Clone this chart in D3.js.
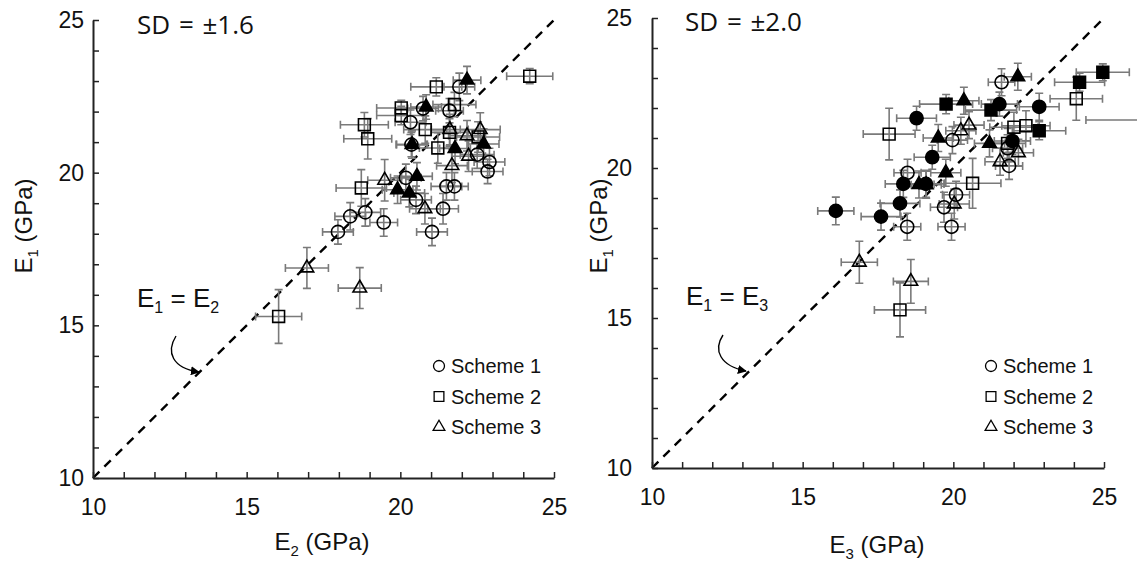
<!DOCTYPE html>
<html><head><meta charset="utf-8">
<script src="https://cdn.jsdelivr.net/npm/d3@7"></script>
<style>body{margin:0;background:#fff} svg{display:block}</style>
</head><body>
<svg id="c" width="1137" height="566"></svg>
<script>
// ---------- data ----------
const majorTicks = [10, 15, 20, 25];
const minorTicks = d3.range(10, 26);
const legendLabels = ["Scheme 1", "Scheme 2", "Scheme 3"];

// Left panel: each entry [E2, E1, errE2, errE1]
const leftScheme1 = [
  [21.92,22.81,0.5,0.45],[21.6,22.03,0.45,0.4],[20.33,21.65,0.5,0.4],[20.74,22.1,0.5,0.4],
  [20.36,20.92,0.5,0.4],[22.5,20.59,0.55,0.45],[22.9,20.35,0.5,0.45],[22.84,20.04,0.5,0.4],
  [21.5,19.55,0.5,0.45],[21.76,19.55,0.45,0.45],[20.18,19.83,0.5,0.45],[20.51,19.11,0.5,0.45],
  [21.39,18.82,0.5,0.5],[21.03,18.06,0.5,0.45],[19.46,18.37,0.45,0.45],[18.86,18.7,0.5,0.45],
  [18.37,18.57,0.5,0.45],[17.97,18.06,0.5,0.4]
];
const leftScheme2 = [
  [21.17,22.81,0.83,0.3],[24.21,23.16,0.75,0.25],[21.76,22.23,0.7,0.4],[20.03,22.12,0.8,0.25],
  [20.03,21.87,0.8,0.3],[18.83,21.57,0.78,0.4],[18.94,21.11,0.78,0.66],[20.81,21.41,0.7,0.45],
  [21.6,21.32,0.6,0.45],[21.22,20.81,0.6,0.5],[22.53,21.17,0.7,0.5],[18.73,19.5,0.82,0.6],
  [16.04,15.29,0.75,0.88]
];
const leftScheme3 = [
  [21.61,21.41,0.6,0.5],[22.17,21.21,0.6,0.5],[22.6,21.41,0.65,0.55],[22.22,20.54,0.55,0.5],
  [21.68,20.23,0.5,0.55],[19.49,19.75,0.55,0.68],[20.8,18.82,0.5,0.5],[16.96,16.88,0.7,0.67],
  [18.68,16.22,0.7,0.67]
];
const leftFilledTriangles = [
  [22.17,23.03,0.45,0.45],[20.84,22.15,0.5,0.4],[20.38,20.92,0.5,0.45],[21.78,20.79,0.5,0.5],
  [22.71,20.94,0.5,0.5],[20.54,19.88,0.5,0.45],[19.91,19.44,0.5,0.45],[20.29,19.33,0.5,0.45]
];

// Right panel: each entry [E3, E1, errE3, errE1]
const rightScheme1 = [
  [21.6,22.86,0.44,0.45],[19.97,20.93,0.5,0.45],[21.8,20.66,0.5,0.45],[21.85,20.07,0.45,0.45],
  [18.48,19.84,0.45,0.45],[20.09,19.11,0.45,0.45],[19.69,18.69,0.45,0.5],[18.47,18.04,0.45,0.45],
  [19.94,18.04,0.45,0.45]
];
const rightScheme2 = [
  [24.08,22.31,0.87,0.72],[22.01,21.36,0.8,0.5],[22.41,21.41,0.8,0.5],[17.87,21.13,0.86,0.86],
  [20.64,19.49,0.94,0.83],[21.8,20.82,0.6,0.5],[18.23,15.27,0.85,0.9],[26.4,21.6,2.0,0.3]
];
const rightScheme3 = [
  [20.52,21.43,0.5,0.45],[20.25,21.24,0.5,0.45],[22.16,20.51,0.5,0.45],[21.55,20.21,0.5,0.45],
  [20.03,18.8,0.5,0.5],[16.88,16.86,0.6,0.7],[18.59,16.22,0.58,0.73]
];
const rightFilledSquares = [
  [24.96,23.19,0.88,0.28],[24.19,22.86,0.83,0.3],[19.76,22.13,0.88,0.32],[21.25,21.93,0.85,0.35],
  [22.85,21.24,0.88,0.3]
];
const rightFilledCircles = [
  [21.53,22.13,0.6,0.4],[22.85,22.04,0.66,0.45],[18.78,21.66,0.66,0.4],[21.96,20.9,0.6,0.45],
  [19.3,20.36,0.6,0.4],[18.34,19.47,0.6,0.45],[19.09,19.47,0.6,0.45],[18.23,18.82,0.66,0.45],
  [17.6,18.38,0.66,0.45],[16.1,18.57,0.6,0.46]
];
const rightFilledTriangles = [
  [22.14,23.04,0.45,0.45],[20.35,22.24,0.5,0.45],[19.5,21.0,0.5,0.45],[21.2,20.82,0.5,0.45],
  [19.75,19.84,0.5,0.45],[18.86,19.45,0.5,0.45],[19.1,19.44,0.5,0.45]
];

// ---------- drawing ----------
const svg = d3.select("#c");
const FONT = "'Liberation Sans', Arial, sans-serif";
const TITLEFONT = "'Open Sans', 'Liberation Sans', sans-serif";
const ERR = "#7a7a7a";

svg.append("defs").append("marker")
  .attr("id","arrow").attr("viewBox","0 0 10 10").attr("refX",9).attr("refY",5)
  .attr("markerWidth",9).attr("markerHeight",9).attr("markerUnits","userSpaceOnUse")
  .attr("orient","auto")
  .append("path").attr("d","M0,0 L10,5 L0,10 z").attr("fill","#000");

const shapes = {circle: d3.symbolCircle, square: d3.symbolSquare, triangle: d3.symbolTriangle};
const sizes = {circle: 135, square: 140, triangle: 80};

function drawPanel(cfg) {
  const g = svg.append("g");
  const x = d3.scaleLinear().domain([10,25]).range(cfg.xr);
  const y = d3.scaleLinear().domain([10,25]).range(cfg.yr);

  // dashed 1:1 line
  g.append("line").attr("x1",x(10)).attr("y1",y(10)).attr("x2",x(25)).attr("y2",y(25))
    .attr("stroke","#000").attr("stroke-width",2.4).attr("stroke-dasharray","9,7");

  // axes: minor ticks inside
  const xMinor = g.append("g").attr("transform",`translate(0,${cfg.yr[0]})`)
    .call(d3.axisBottom(x).tickValues(minorTicks).tickSizeInner(-6).tickSizeOuter(0).tickFormat(""));
  const yMinor = g.append("g").attr("transform",`translate(${cfg.xr[0]},0)`)
    .call(d3.axisLeft(y).tickValues(minorTicks).tickSizeInner(-6).tickSizeOuter(0).tickFormat(""));
  [xMinor,yMinor].forEach(a => {
    a.select(".domain").attr("stroke","#222").attr("stroke-width",2);
    a.selectAll(".tick line").attr("stroke","#222").attr("stroke-width",1.5);
  });
  const xMaj = g.append("g").attr("transform",`translate(0,${cfg.yr[0]})`)
    .call(d3.axisBottom(x).tickValues(majorTicks).tickSize(0).tickPadding(cfg.xPad));
  const yMaj = g.append("g").attr("transform",`translate(${cfg.xr[0]},0)`)
    .call(d3.axisLeft(y).tickValues(majorTicks).tickSize(0).tickPadding(cfg.yPad));
  [xMaj,yMaj].forEach(a => {
    a.select(".domain").remove();
    a.selectAll("text").attr("font-family",FONT).attr("font-size",23).attr("fill","#111");
  });

  // series
  const all = cfg.series;
  const eb = g.append("g").attr("stroke",ERR).attr("stroke-width",1.6).attr("fill","none");
  const cap = 4;
  all.forEach(s => {
    s.data.forEach(d => {
      const cx = x(d[0]), cy = y(d[1]);
      const x0 = x(d[0]-d[2]), x1 = x(d[0]+d[2]);
      const y0 = y(d[1]-d[3]), y1 = y(d[1]+d[3]);
      eb.append("path").attr("d",
        `M${x0},${cy}H${x1}M${x0},${cy-cap}V${cy+cap}M${x1},${cy-cap}V${cy+cap}` +
        `M${cx},${y0}V${y1}M${cx-cap},${y0}H${cx+cap}M${cx-cap},${y1}H${cx+cap}`);
    });
  });
  all.forEach(s => {
    g.append("g").selectAll("path").data(s.data).join("path")
      .attr("transform", d => `translate(${x(d[0])},${y(d[1])})`)
      .attr("d", d3.symbol().type(shapes[s.shape]).size(sizes[s.shape]))
      .attr("fill", s.filled ? "#000" : "none")
      .attr("stroke","#000").attr("stroke-width",1.6);
  });

  // title
  g.append("text").attr("x",cfg.title[0]).attr("y",cfg.title[1])
    .attr("font-family",TITLEFONT).attr("font-size",26).attr("word-spacing",2).attr("fill","#111").text(cfg.titleText);

  // axis labels
  const xl = g.append("text").attr("x",cfg.xlab[0]).attr("y",cfg.xlab[1]).attr("text-anchor","middle")
    .attr("font-family",FONT).attr("font-size",24).attr("fill","#111");
  xl.append("tspan").text("E");
  xl.append("tspan").attr("font-size",15).attr("dy",6).text(cfg.sub);
  xl.append("tspan").attr("dy",-6).text(" (GPa)");
  const yl = g.append("text").attr("transform",`translate(${cfg.ylab[0]},${cfg.ylab[1]}) rotate(-90)`)
    .attr("text-anchor","middle").attr("font-family",FONT).attr("font-size",24).attr("fill","#111");
  yl.append("tspan").text("E");
  yl.append("tspan").attr("font-size",15).attr("dy",6).text("1");
  yl.append("tspan").attr("dy",-6).text(" (GPa)");

  // E1 = Ex annotation
  const an = g.append("text").attr("x",cfg.ann[0]).attr("y",cfg.ann[1])
    .attr("font-family",FONT).attr("font-size",26).attr("fill","#111");
  an.append("tspan").text("E");
  an.append("tspan").attr("font-size",16).attr("dy",6).text("1");
  an.append("tspan").attr("dy",-6).text(" = E");
  an.append("tspan").attr("font-size",16).attr("dy",6).text(cfg.sub);
  g.append("path").attr("d",cfg.arrow).attr("fill","none").attr("stroke","#000")
    .attr("stroke-width",1.4).attr("marker-end","url(#arrow)");

  // legend
  const lg = g.append("g").attr("transform",`translate(${cfg.leg[0]},${cfg.leg[1]})`);
  ["circle","square","triangle"].forEach((sh,i) => {
    lg.append("path").attr("transform",`translate(0,${i*30.5})`)
      .attr("d", d3.symbol().type(shapes[sh]).size(sh==="triangle"?60:95))
      .attr("fill","none").attr("stroke","#000").attr("stroke-width",1.3);
    lg.append("text").attr("x",12).attr("y",i*30.5+7)
      .attr("font-family",FONT).attr("font-size",20).attr("fill","#111").text(legendLabels[i]);
  });
}

drawPanel({
  xr:[93,554], yr:[478,20], xPad:21, yPad:9,
  series:[
    {data:leftScheme1, shape:"circle", filled:false},
    {data:leftScheme2, shape:"square", filled:false},
    {data:leftScheme3, shape:"triangle", filled:false},
    {data:leftFilledTriangles, shape:"triangle", filled:true}
  ],
  title:[137,34], titleText:"SD = \u00b11.6",
  xlab:[322,550], ylab:[32,226], sub:"2",
  ann:[137,307], arrow:"M176,336 C166,352 172,368 199,372",
  leg:[439,366]
});
drawPanel({
  xr:[652,1104], yr:[468,18], xPad:21, yPad:20,
  series:[
    {data:rightScheme1, shape:"circle", filled:false},
    {data:rightScheme2, shape:"square", filled:false},
    {data:rightScheme3, shape:"triangle", filled:false},
    {data:rightFilledSquares, shape:"square", filled:true},
    {data:rightFilledCircles, shape:"circle", filled:true},
    {data:rightFilledTriangles, shape:"triangle", filled:true}
  ],
  title:[685,31], titleText:"SD = \u00b12.0",
  xlab:[877,553], ylab:[607,226], sub:"3",
  ann:[686,305], arrow:"M723,335 C713,350 720,366 746,371",
  leg:[991,366]
});
</script>
</body></html>
